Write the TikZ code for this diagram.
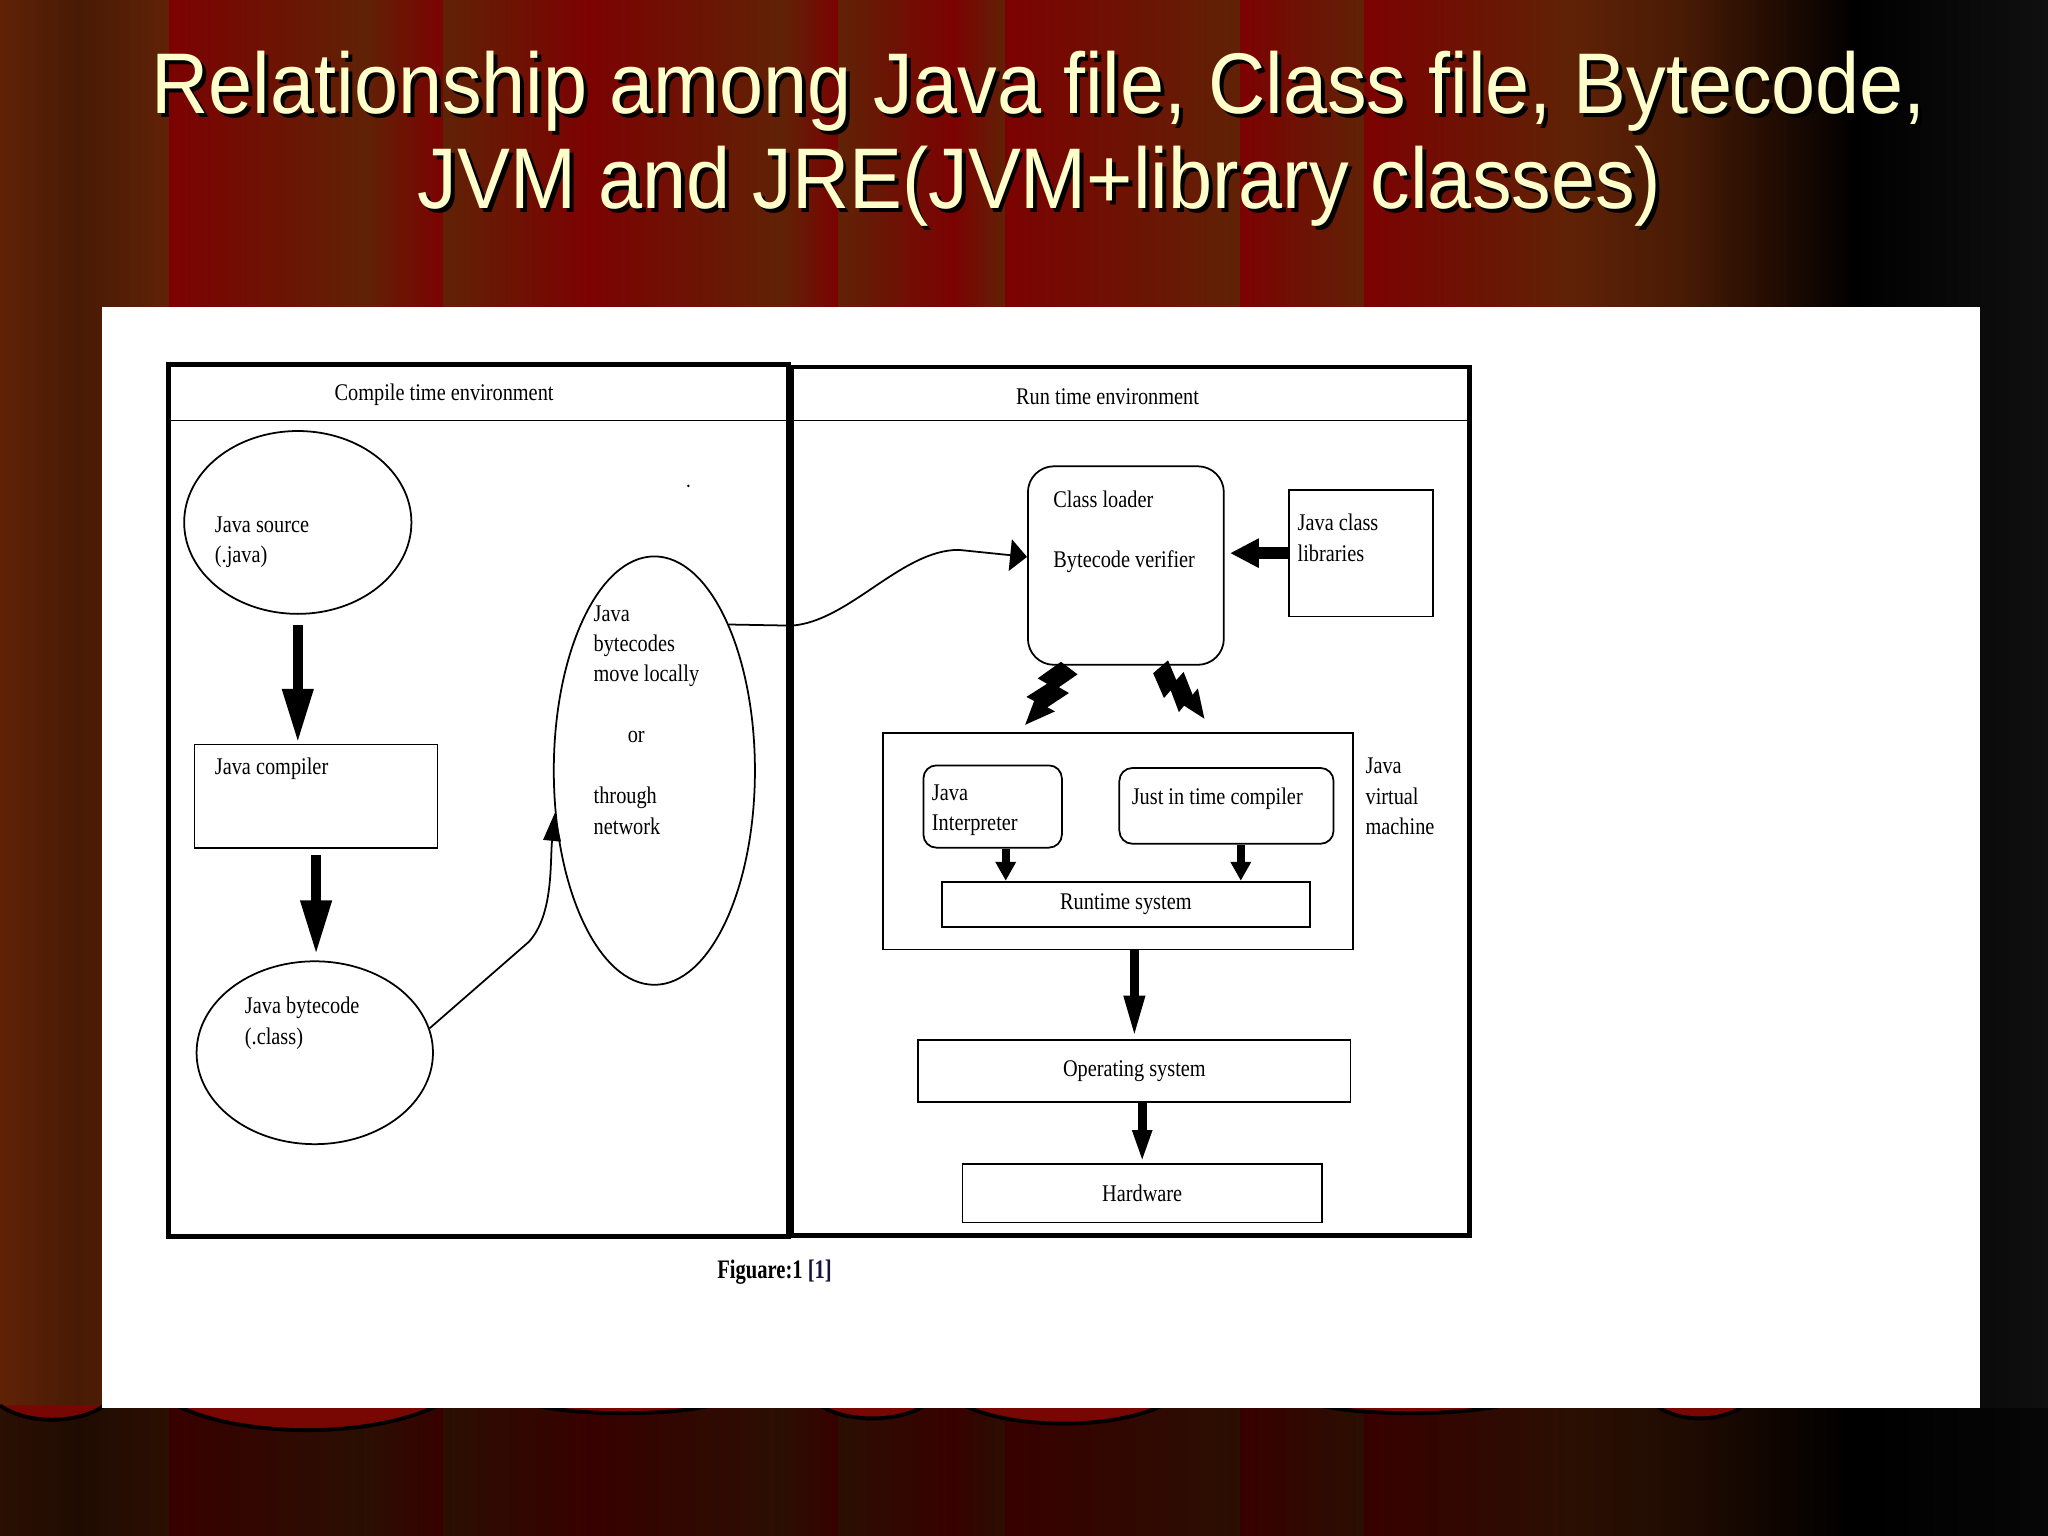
\documentclass[tikz,border=0pt]{standalone}
\usepackage{fontspec}
\setmainfont{Liberation Serif}
\newfontfamily\diagfont[FakeStretch=0.85]{Liberation Serif}
\newfontfamily\capfont[FakeStretch=0.77]{Liberation Serif}
\newfontfamily\titlefont[FakeStretch=0.92]{Liberation Sans}
\usetikzlibrary{arrows.meta,shapes.geometric,positioning}
\newdimen\pxunit \pxunit=0.01306cm
\definecolor{curtainRed}{RGB}{124,2,2}
\definecolor{curtainBrown}{RGB}{96,34,6}
\definecolor{curtainShade}{RGB}{72,26,5}
\definecolor{curtainNight}{RGB}{16,16,16}
\definecolor{titleCream}{RGB}{255,255,204}
\definecolor{captionNavy}{RGB}{20,20,60}
\tikzset{
  sized/.style 2 args={minimum width=#1\pxunit,minimum height=#2\pxunit},
  env box/.style={draw,line width=1.4pt,inner sep=0pt},
  plain box/.style={draw,line width=0.5pt,inner sep=0pt,font=\diagfont\fontsize{6.8pt}{8.66pt}\selectfont},
  soft box/.style={plain box,rounded corners=#1},
  oval/.style={ellipse,draw,line width=0.5pt,inner sep=0pt},
  diag text/.style={anchor=north west,inner sep=0pt,align=left,font=\diagfont\fontsize{6.8pt}{8.66pt}\selectfont},
  head text/.style={anchor=base,inner sep=0pt,font=\diagfont\fontsize{6.8pt}{8.66pt}\selectfont},
  caption text/.style={anchor=base,inner sep=0pt,font=\capfont\bfseries\fontsize{7.6pt}{9pt}\selectfont},
  title text/.style={anchor=base,inner sep=0pt,text=titleCream,font=\titlefont\fontsize{24.5pt}{29pt}\selectfont},
  title shadow/.style={title text,text=black},
  link/.style={line width=0.5pt},
  big arrow/.style={line width=3pt,-{Triangle[width=8.2pt,length=15.6pt]}},
  lib arrow/.style={line width=3.6pt,-{Triangle[width=7.8pt,length=8.2pt]}},
  os arrow/.style={line width=2.6pt,-{Triangle[width=5.4pt,length=12.3pt]}},
  hw arrow/.style={line width=2.6pt,-{Triangle[width=5pt,length=9.3pt]}},
  jit arrow/.style={line width=2.3pt,-{Triangle[width=5.6pt,length=5.4pt]}},
  drape edge/.style={line width=1.1pt,draw=black},
  bolt/.pic={
    \fill (-0.13,0) -- (0.16,0) -- (0.06,0.30) -- (0.22,0.28) -- (0.10,0.62)
      -- (0.22,0.60) -- (0,1) -- (-0.10,0.66) -- (-0.22,0.68) -- (-0.10,0.36)
      -- (-0.25,0.38) -- cycle;
  }
}
\begin{document}
\begin{tikzpicture}[x=0.01306cm,y=-0.01306cm]
  \useasboundingbox (0,0) rectangle (1568,1176);
  % curtain stripes
  \foreach \xa/\xb/\ca/\cb in {0/60/curtainBrown/curtainShade,60/130/curtainShade/curtainBrown,
      130/280/curtainRed/curtainBrown,280/340/curtainBrown/curtainRed,340/450/curtainBrown/curtainRed,
      450/600/curtainRed/curtainBrown,600/642/curtainBrown/curtainRed,642/730/curtainBrown/curtainRed,
      730/770/curtainRed/curtainBrown,770/950/curtainRed/curtainBrown,950/1045/curtainRed/curtainBrown,
      1045/1200/curtainRed/curtainBrown,1200/1290/curtainBrown/curtainShade,1290/1420/curtainShade/black,
      1420/1568/black/curtainNight}
    \shade[left color=\ca,right color=\cb] ({\xa-0.5},0) rectangle ({\xb+0.5},1176);
  \fill[black,opacity=0.55] (0,1078) rectangle (1568,1176);
  \foreach \xa/\xb/\dep in {0/80/11,135/335/19,410/545/6,628/708/10,738/890/14,1010/1150/6,1268/1335/10} {
    \fill[curtainRed!85!curtainBrown] (\xa,1076) .. controls ({\xa+0.25*(\xb-\xa)},{1076+1.33*\dep})
      and ({\xb-0.25*(\xb-\xa)},{1076+1.33*\dep}) .. (\xb,1076) -- cycle;
    \draw[drape edge] (\xa,1076) .. controls ({\xa+0.25*(\xb-\xa)},{1076+1.33*\dep})
      and ({\xb-0.25*(\xb-\xa)},{1076+1.33*\dep}) .. (\xb,1076);
  }
  \fill[white] (78,235) rectangle (1516,1078);

  % title
  \node[title shadow] (titleTopShadow) at (798.5,90) {Relationship among Java file, Class file, Bytecode,};
  \node[title text] (titleTop) at (795.5,87) {Relationship among Java file, Class file, Bytecode,};
  \node[title shadow] (titleLowShadow) at (799,163) {JVM and JRE(JVM+library classes)};
  \node[title text] (titleLow) at (796,160) {JVM and JRE(JVM+library classes)};

  % environments
  \node[env box,sized={475}{668}] (compile) at (366.5,613) {};
  \node[env box,sized={519}{665}] (run) at (865.5,613.5) {};
  \draw[link] (compile.west |- 0,322) -- (compile.east |- 0,322);
  \draw[link] (run.west |- 0,322) -- (run.east |- 0,322);
  \node[head text] (compileHead) at (340,307) {Compile time environment};
  \node[head text] (runHead) at (848,310) {Run time environment};

  % compile side
  \node[oval,sized={174}{140}] (src) at (228,400) {};
  \node[diag text] (srcText) at (164,395) {Java source\\(.java)};
  \node[plain box,sized={186}{79}] (compiler) at (242,609.5) {};
  \node[diag text] (compilerText) at (164,580) {Java compiler};
  \node[oval,sized={181}{140}] (jbc) at (241,806) {};
  \node[diag text] (jbcText) at (187,763) {Java bytecode\\(.class)};
  \node[oval,sized={154}{328}] (move) at (501,590) {};
  \node[diag text] (moveText) at (454,463) {Java\\bytecodes\\move locally\\\mbox{}\\\hspace*{9.7pt}or\\\mbox{}\\through\\network};
  \fill (527,372) circle (1);

  \draw[big arrow,shorten <=8\pxunit] (src.south) -- (src.south |- compiler.north);
  \draw[big arrow,shorten <=5\pxunit,shorten >=4\pxunit] (compiler.south) -- (compiler.south |- jbc.north);
  \draw[link,-{Triangle[width=5pt,length=8pt]}] (jbc.12) -- (405,721)
    .. controls (424,700) and (421,660) .. (move.203);

  % run side
  \node[soft box=7.4pt,sized={150}{152}] (loader) at (862,433) {};
  \node[diag text] (loaderText) at (806,375) {Class loader\\\mbox{}\\Bytecode verifier};
  \node[plain box,sized={110}{97}] (libs) at (1042,423.5) {};
  \node[diag text] (libsText) at (993,393) {Java class\\libraries};
  \draw[lib arrow,shorten >=4\pxunit] (libs.west) -- (libs.west -| loader.east);
  \draw[link,-{Triangle[width=9pt,length=4.8pt]}] (move.63) -- (606,479)
    .. controls (650,476) and (690,421) .. (734,421) -- (loader.175);

  \pic[rotate=-37,scale=55] at (818,511) {bolt};
  \pic[rotate=41,scale=52] at (888,511) {bolt};

  \node[plain box,sized={360}{166}] (jvm) at (856,644) {};
  \node[diag text] (jvmText) at (1045,580) {Java\\virtual\\machine};
  \node[soft box=3.7pt,sized={106}{63}] (interp) at (760,617.5) {};
  \node[diag text] (interpText) at (713,600) {Java\\Interpreter};
  \node[soft box=3.7pt,sized={164}{58}] (jit) at (939,617) {};
  \node[diag text] (jitText) at (866,603) {Just in time compiler};
  \node[plain box,sized={282}{35}] (runtime) at (862,692.5) {Runtime system};
  \draw[jit arrow] ([xshift=10\pxunit]interp.south) -- ([xshift=10\pxunit]interp.south |- runtime.north);
  \draw[jit arrow] ([xshift=11\pxunit]jit.south) -- ([xshift=11\pxunit]jit.south |- runtime.north);

  \node[plain box,sized={331}{48}] (os) at (868.5,820) {Operating system};
  \node[plain box,sized={275}{45}] (hw) at (874.5,913.5) {Hardware};
  \draw[os arrow] (jvm.south -| os.north) -- (os.north);
  \draw[hw arrow] (os.south -| hw.north) -- (hw.north);

  \node[caption text] (figCap) at (593,979) {Figuare:1 \textcolor{captionNavy}{[1]}};
\end{tikzpicture}
\end{document}
